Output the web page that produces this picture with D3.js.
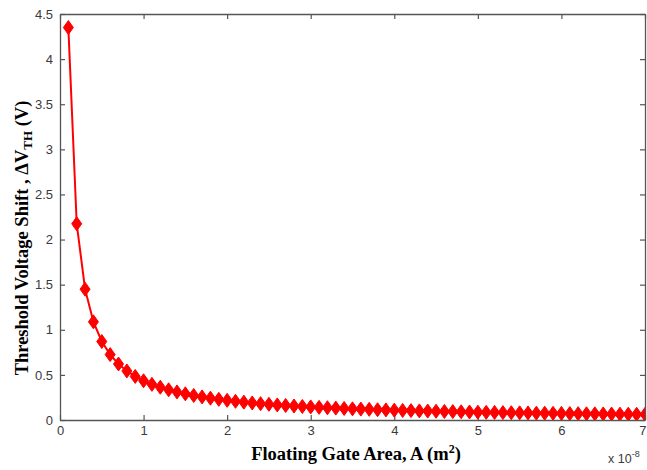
<!DOCTYPE html>
<html><head><meta charset="utf-8">
<script src="https://cdn.jsdelivr.net/npm/d3@7"></script>
<style>body{margin:0;background:#fff}svg{display:block}</style>
</head><body>
<svg id="c" width="647" height="470"></svg>
<script>
// Floating gate area (x 1e-8 m^2)
const areaValues = [0.1,0.2,0.3,0.4,0.5,0.6,0.7,0.8,0.9,1.0,1.1,1.2,1.3,1.4,1.5,1.6,1.7,1.8,1.9,2.0,2.1,2.2,2.3,2.4,2.5,2.6,2.7,2.8,2.9,3.0,3.1,3.2,3.3,3.4,3.5,3.6,3.7,3.8,3.9,4.0,4.1,4.2,4.3,4.4,4.5,4.6,4.7,4.8,4.9,5.0,5.1,5.2,5.3,5.4,5.5,5.6,5.7,5.8,5.9,6.0,6.1,6.2,6.3,6.4,6.5,6.6,6.7,6.8,6.9,7.0];
// Threshold voltage shift (V)
const shiftValues = [4.35,2.175,1.45,1.088,0.87,0.725,0.621,0.544,0.483,0.435,0.395,0.363,0.335,0.311,0.29,0.272,0.256,0.242,0.229,0.218,0.207,0.198,0.189,0.181,0.174,0.167,0.161,0.155,0.15,0.145,0.14,0.136,0.132,0.128,0.124,0.121,0.118,0.114,0.112,0.109,0.106,0.104,0.101,0.099,0.097,0.095,0.093,0.091,0.089,0.087,0.085,0.084,0.082,0.081,0.079,0.078,0.076,0.075,0.074,0.073,0.071,0.070,0.069,0.068,0.067,0.066,0.065,0.064,0.063,0.062];
const xTicks = [0,1,2,3,4,5,6,7];
const yTicks = [0,0.5,1,1.5,2,2.5,3,3.5,4,4.5];

(function(){
const svg = d3.select("#c");
const L = 60, R = 645, T = 14, B = 420;
const x = d3.scaleLinear().domain([0,7]).range([L,R]);
const y = d3.scaleLinear().domain([0,4.5]).range([B,T]);
const axisColor = "#555", textColor = "#3a3a3a";

svg.append("defs").append("clipPath").attr("id","clip")
  .append("rect").attr("x",L).attr("y",T-8).attr("width",R-L).attr("height",B-T+8);

const fmt = d => String(d);
const gBottom = svg.append("g").attr("transform",`translate(0,${B})`)
  .call(d3.axisBottom(x).tickValues(xTicks).tickFormat(fmt).tickSizeInner(-5).tickSizeOuter(0).tickPadding(6));
const gTop = svg.append("g").attr("transform",`translate(0,${T})`)
  .call(d3.axisTop(x).tickValues(xTicks).tickFormat("").tickSizeInner(-5).tickSizeOuter(0));
const gLeft = svg.append("g").attr("transform",`translate(${L},0)`)
  .call(d3.axisLeft(y).tickValues(yTicks).tickFormat(fmt).tickSizeInner(-5).tickSizeOuter(0).tickPadding(7));
const gRight = svg.append("g").attr("transform",`translate(${R},0)`)
  .call(d3.axisRight(y).tickValues(yTicks).tickFormat("").tickSizeInner(-5).tickSizeOuter(0));
[gBottom,gTop,gLeft,gRight].forEach(g=>{
  g.select(".domain").attr("stroke",axisColor).attr("stroke-width",1.3);
  g.selectAll(".tick line").attr("stroke",axisColor).attr("stroke-width",1.2);
  g.selectAll("text").attr("fill",textColor).style("font-family","Arial, 'Liberation Sans', sans-serif").style("font-size","13px");
});
// keep the last x tick label inside the page
gBottom.selectAll(".tick text").filter(d => d === 7).attr("text-anchor","end").attr("dx","1");

const data = areaValues.map((a,i)=>({a, v: shiftValues[i]}));
const plot = svg.append("g").attr("clip-path","url(#clip)");
plot.append("path").datum(data)
  .attr("fill","none").attr("stroke","#ff0000").attr("stroke-width",2)
  .attr("d", d3.line().x(d=>x(d.a)).y(d=>y(d.v)));
plot.selectAll("path.m").data(data).join("path").attr("class","m")
  .attr("transform", d=>`translate(${x(d.a)},${y(d.v)})`)
  .attr("d","M0,-7L5,0L0,7L-5,0Z")
  .attr("fill","#ff0000").attr("stroke","#ff0000").attr("stroke-width",1);

const serif = "'Times New Roman', 'Liberation Serif', serif";
const xl = svg.append("text").attr("x",356).attr("y",460).attr("text-anchor","middle")
  .style("font-family",serif).style("font-weight","bold").style("font-size","18.5px").attr("fill","#000");
xl.append("tspan").text("Floating Gate Area, A (m");
xl.append("tspan").attr("dy",-7).style("font-size","12px").text("2");
xl.append("tspan").attr("dy",7).text(")");

const yl = svg.append("text").attr("transform","translate(28,238) rotate(-90)").attr("text-anchor","middle")
  .style("font-family",serif).style("font-weight","bold").style("font-size","18.5px").attr("fill","#000");
yl.append("tspan").text("Threshold  Voltage Shift  , \u0394V");
yl.append("tspan").attr("dy",4).style("font-size","13px").text("TH");
yl.append("tspan").attr("dy",-4).text(" (V)");

const ex = svg.append("text").attr("x",608).attr("y",463)
  .style("font-family","Arial, 'Liberation Sans', sans-serif").style("font-size","12.5px").attr("fill",textColor);
ex.append("tspan").text("x 10");
ex.append("tspan").attr("dy",-6).style("font-size","9px").text("-8");
})();
</script>
</body></html>
